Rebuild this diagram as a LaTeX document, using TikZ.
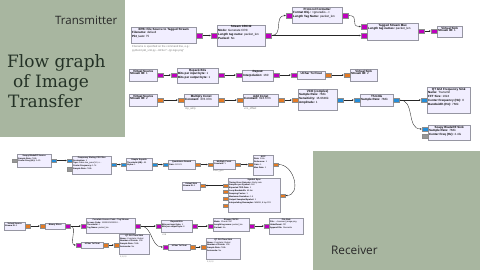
\documentclass[tikz,border=0pt]{standalone}
\usepackage{fontspec}
\newfontfamily\grfont{Liberation Sans}
\newfontfamily\headfont{Open Sans}
\newfontfamily\serifhead{DejaVu Serif}
\usetikzlibrary{arrows.meta}

\definecolor{panel}{RGB}{168,182,160}
\definecolor{blockfill}{RGB}{241,238,255}
\definecolor{blockline}{RGB}{150,150,162}
\definecolor{pbyte}{RGB}{190,0,190}
\definecolor{pfloat}{RGB}{228,122,36}
\definecolor{pcplx}{RGB}{36,142,218}
\definecolor{pmsg}{RGB}{150,150,150}
\definecolor{titleink}{RGB}{36,50,38}
\definecolor{labelink}{RGB}{40,40,40}
\definecolor{noteink}{RGB}{120,120,120}

% a flowgraph block: name, x, y, width, height, title, parameter lines
\newcommand\grblk[7]{%
  \node[blk, minimum width=#4pt, minimum height=#5pt] (#1) at (#2,#3) {};
  \node[blkhead] (#1-h) at ([yshift=-0.5pt]#1.north) {#6};
  \node[blkbody, xshift=0.8pt] (#1-p) at (#1-h.south -| #1.west) {#7};}
% ports: name, block, y, colour
\newcommand\outp[4]{\node[port, fill=#4, anchor=west] (#1) at (#2.east |- 0,#3) {};}
\newcommand\inp[4]{\node[port, fill=#4, anchor=east] (#1) at (#2.west |- 0,#3) {};}
\newcommand\kv[2]{\textbf{#1:} #2}

\tikzset{
  blk/.style={rectangle, anchor=north west, inner sep=0, draw=blockline, fill=blockfill, line width=0.4pt},
  wire/.style={draw=black!85, line width=0.35pt, -{Stealth[length=1.8pt,width=1.6pt]}},
  note/.style={anchor=north west, inner sep=0, text=noteink, align=left},
}

\begin{document}
\begin{tikzpicture}[x=1pt,y=-1pt]
\fill[white] (0,0) rectangle (480,270);
\useasboundingbox (0,0) rectangle (480,270);

% side panels
\fill[panel] (0,0) rectangle (125,137);
\fill[panel] (313,151) rectangle (480,270);

\node[anchor=base west, inner sep=0, text=labelink, font=\headfont\fontsize{11.5}{13}\selectfont] (txlabel) at (55,24.5) {Transmitter};
\node[anchor=base west, inner sep=0, text=labelink, font=\headfont\fontsize{11.8}{13}\selectfont] (rxlabel) at (331,254) {Receiver};
\node[anchor=base west, inner sep=0, text=titleink, font=\serifhead\fontsize{17}{20}\selectfont] (title1) at (7,68) {Flow graph};
\node[anchor=base west, inner sep=0, text=titleink, font=\serifhead\fontsize{17}{20}\selectfont] (title2) at (13,88) {of Image};
\node[anchor=base west, inner sep=0, text=titleink, font=\serifhead\fontsize{17}{20}\selectfont] (title3) at (8,108) {Transfer};

% ---------------- transmitter ----------------
\begin{scope}[
  blkhead/.style={anchor=north, inner sep=0.2pt, font=\grfont\bfseries\fontsize{3.0}{4.0}\selectfont},
  blkbody/.style={anchor=north west, inner sep=0.2pt, align=left, font=\grfont\fontsize{3.0}{4.0}\selectfont},
  port/.style={rectangle, inner sep=0, minimum width=6pt, minimum height=4.5pt, draw=black!45, line width=0.2pt},
  note/.append style={font=\grfont\fontsize{2.7}{3.6}\selectfont}]

\grblk{fsrc}{131}{27}{65}{16}{EPB: File Source to Tagged Stream}{\kv{Filename}{default}\\\kv{Pkt\_Len}{75}}
\outp{fsrc-o}{fsrc}{35.5}{pbyte}
\node[note] (fsrc-c) at (132,45.5) {Filename is specified on the command line, e.g.:\\python3 pkt\_xmt.py --InFile="../gr-logo.png"};

\grblk{crc}{217}{25}{48}{21}{Stream CRC32}{\kv{Mode}{Generate CRC}\\\kv{Length tag name}{packet\_len}\\\kv{Packed}{No}}
\inp{crc-i}{crc}{35.5}{pbyte}
\outp{crc-o}{crc}{35.5}{pbyte}

\grblk{pf}{292}{7}{50}{16}{Protocol Formatter}{\kv{Format Obj.}{<gnuradio...>}\\\kv{Length Tag Name}{packet\_len}}
\inp{pf-i}{pf}{15.5}{pbyte}
\outp{pf-o}{pf}{15.5}{pbyte}

\grblk{mux}{367}{23}{51}{17}{Tagged Stream Mux}{\kv{Length tag names}{packet\_len}}
\inp{mux-i1}{mux}{26.5}{pbyte}
\inp{mux-i2}{mux}{35.5}{pbyte}
\outp{mux-o}{mux}{31}{pbyte}

\grblk{vsk1}{437}{26}{25}{11}{Virtual Sink}{\kv{Stream ID}{1}}
\inp{vsk1-i}{vsk1}{31}{pbyte}

\grblk{vsr1}{129}{69}{28}{12}{Virtual Source}{\kv{Stream ID}{1}}
\outp{vsr1-o}{vsr1}{75}{pbyte}

\grblk{rpk}{177}{68}{41}{15}{Repack Bits}{\kv{Bits per input byte}{1}\\\kv{Bits per output byte}{1}}
\inp{rpk-i}{rpk}{75}{pbyte}
\outp{rpk-o}{rpk}{75}{pbyte}

\grblk{rep}{242}{70}{31}{11}{Repeat}{\kv{Interpolation}{160}}
\inp{rep-i}{rep}{75}{pbyte}
\outp{rep-o}{rep}{75}{pbyte}

\grblk{u2f}{297}{71}{28}{8}{UChar To Float}{}
\inp{u2f-i}{u2f}{75}{pbyte}
\outp{u2f-o}{u2f}{75}{pfloat}

\grblk{vsk2}{350}{69}{27}{12}{Virtual Sink}{\kv{Stream ID}{2}}
\inp{vsk2-i}{vsk2}{75}{pfloat}

\grblk{vsr2}{129}{94}{28}{12}{Virtual Source}{\kv{Stream ID}{2}}
\outp{vsr2-o}{vsr2}{100}{pfloat}

\grblk{mul}{184}{94}{34}{12}{Multiply Const}{\kv{Constant}{376.37m}}
\inp{mul-i}{mul}{100}{pfloat}
\outp{mul-o}{mul}{100}{pfloat}
\node[note] (mul-c) at (185,107.5) {inp\_amp};

\grblk{add}{243}{94}{35}{12}{Add Const}{\kv{Constant}{624.67m}}
\inp{add-i}{add}{100}{pfloat}
\outp{add-o}{add}{100}{pfloat}
\node[note] (add-c) at (244,107.5) {vco\_offset};

\grblk{vco}{298}{89}{39}{21}{VCO (complex)}{\kv{Sample Rate}{768k}\\\kv{Sensitivity}{16.9646k}\\\kv{Amplitude}{1}}
\inp{vco-i}{vco}{100}{pfloat}
\outp{vco-o}{vco}{100}{pcplx}

\grblk{thr}{360}{94}{33}{12}{Throttle}{\kv{Sample Rate}{768k}}
\inp{thr-i}{thr}{100}{pcplx}
\outp{thr-o}{thr}{100}{pcplx}

\grblk{fsk}{427}{87}{43}{26}{QT GUI Frequency Sink}{\kv{Name}{Transmit}\\\kv{FFT Size}{1024}\\\kv{Center Frequency (Hz)}{0}\\\kv{Bandwidth (Hz)}{768k}}
\inp{fsk-i}{fsk}{100}{pcplx}

\grblk{bsk}{428}{125}{42}{15}{Soapy BladeRF Sink}{\kv{Sample Rate}{768k}\\\kv{Center Freq (Hz)}{2.4G}}
\inp{bsk-i}{bsk}{129}{pcplx}
\inp{bsk-m}{bsk}{136}{pmsg}
\end{scope}

% transmitter connections
\draw[wire] (fsrc-o.east) -- (crc-i.west);
\draw[wire] (crc-o.east) .. controls +(12,0) and +(-12,0) .. (pf-i.west);
\draw[wire] (crc-o.east) -- (mux-i2.west);
\draw[wire] (pf-o.east) .. controls +(12,0) and +(-12,0) .. (mux-i1.west);
\draw[wire] (mux-o.east) -- (vsk1-i.west);
\draw[wire] (vsr1-o.east) -- (rpk-i.west);
\draw[wire] (rpk-o.east) -- (rep-i.west);
\draw[wire] (rep-o.east) -- (u2f-i.west);
\draw[wire] (u2f-o.east) -- (vsk2-i.west);
\draw[wire] (vsr2-o.east) -- (mul-i.west);
\draw[wire] (mul-o.east) -- (add-i.west);
\draw[wire] (add-o.east) -- (vco-i.west);
\draw[wire] (vco-o.east) -- (thr-i.west);
\draw[wire] (thr-o.east) -- (fsk-i.west);
\draw[wire] (thr-o.east) .. controls +(16,0) and +(-16,0) .. (bsk-i.west);

% ---------------- receiver ----------------
\begin{scope}[
  blkhead/.style={anchor=north, inner sep=0.15pt, font=\grfont\bfseries\fontsize{2.1}{2.9}\selectfont},
  blkbody/.style={anchor=north west, inner sep=0.15pt, align=left, font=\grfont\fontsize{2.1}{2.9}\selectfont},
  port/.style={rectangle, inner sep=0, minimum width=5pt, minimum height=3.6pt, draw=black!45, line width=0.2pt},
  note/.append style={font=\grfont\fontsize{2.1}{2.8}\selectfont}]

\grblk{bsrc}{17}{154}{34}{13}{Soapy BladeRF Source}{\kv{Sample Rate}{768k}\\\kv{Center Freq (Hz)}{2.4G}}
\inp{bsrc-m}{bsrc}{160.5}{pmsg}
\outp{bsrc-o}{bsrc}{160.5}{pcplx}

\grblk{xl}{72}{156}{39}{18}{Frequency Xlating FIR Filter}{\kv{Decimation}{1}\\\kv{Taps}{firdes.low\_pass(1.0, s...}\\\kv{Center Frequency}{1.7k}\\\kv{Sample Rate}{768k}}
\inp{xl-i}{xl}{160.5}{pcplx}
\inp{xl-m}{xl}{169}{pmsg}
\outp{xl-o}{xl}{164.5}{pcplx}

\grblk{sq}{126}{158}{26}{12}{Simple Squelch}{\kv{Threshold (dB)}{-50}\\\kv{Alpha}{1}}
\inp{sq-i}{sq}{164.5}{pcplx}
\outp{sq-o}{sq}{164.5}{pcplx}

\grblk{qd}{168}{160}{27}{8.5}{Quadrature Demod}{\kv{Gain}{122.23}}
\inp{qd-i}{qd}{164.5}{pcplx}
\outp{qd-o}{qd}{164.5}{pfloat}

\grblk{mc}{213}{160}{22}{9}{Multiply Const}{\kv{Constant}{1}}
\inp{mc-i}{mc}{164.5}{pfloat}
\outp{mc-o}{mc}{164.5}{pfloat}
\node[note] (mc-c) at (213,170) {invert\_gain};

\grblk{agc}{253}{155}{20}{20}{AGC}{\kv{Rate}{100u}\\\kv{Reference}{1}\\\kv{Gain}{1}\\\kv{Max Gain}{1}}
\inp{agc-i}{agc}{164.5}{pfloat}
\outp{agc-o}{agc}{164.5}{pfloat}

\grblk{ss}{228}{178}{52}{34}{Symbol Sync}{\kv{Timing Error Detector}{Early-Late}\\\kv{Samples per Symbol}{160}\\\kv{Expected TED Gain}{1}\\\kv{Loop Bandwidth}{62.8m}\\\kv{Damping Factor}{1}\\\kv{Maximum Deviation}{1.5}\\\kv{Output Samples/Symbol}{1}\\\kv{Interpolating Resampler}{MMSE, 8 tap FIR}}
\outp{ss-i}{ss}{195.5}{pfloat}
\inp{ss-o1}{ss}{185.5}{pfloat}
\inp{ss-o2}{ss}{191.5}{pfloat}
\inp{ss-o3}{ss}{198.5}{pfloat}
\inp{ss-o4}{ss}{205.5}{pfloat}

\grblk{vskr}{182}{182}{18}{7.5}{Virtual Sink}{\kv{Stream ID}{3}}
\outp{vskr-i}{vskr}{185.5}{pfloat}

\grblk{vsrr}{4}{222}{21}{8}{Virtual Source}{\kv{Stream ID}{3}}
\outp{vsrr-o}{vsrr}{226}{pfloat}

\grblk{bs}{45}{223}{20}{6}{Binary Slicer}{}
\inp{bs-i}{bs}{226}{pfloat}
\outp{bs-o}{bs}{226}{pbyte}

\grblk{cac}{86}{218}{49}{15}{Correlate Access Code - Tag Stream}{\kv{Access Code}{11100001010110...}\\\kv{Threshold}{0}\\\kv{Tag Name}{packet\_len}}
\inp{cac-i}{cac}{226}{pbyte}
\outp{cac-o}{cac}{226}{pbyte}

\grblk{ufa}{81}{242}{22}{6}{UChar To Float}{}
\inp{ufa-i}{ufa}{245}{pbyte}
\outp{ufa-o}{ufa}{245}{pfloat}

\grblk{tsa}{119}{234}{30}{20}{QT GUI Time Sink}{\kv{Name}{Correlator Output}\\\kv{Number of Points}{128}\\\kv{Sample Rate}{768k}\\\kv{Autoscale}{No}}
\inp{tsa-i}{tsa}{245}{pfloat}
\node[note] (tsa-c) at (120,255.5) {0,1,0,0};

\grblk{rpr}{161}{220}{31}{12}{Repack Bits}{\kv{Bits per input byte}{1}\\\kv{Bits per output byte}{8}}
\inp{rpr-i}{rpr}{226}{pbyte}
\outp{rpr-o}{rpr}{226}{pbyte}
\node[note] (rpr-c) at (162,233.5) {LSB};

\grblk{crr}{213}{218}{36}{13}{Stream CRC32}{\kv{Mode}{Check CRC}\\\kv{Length tag name}{packet\_len}\\\kv{Packed}{No}}
\inp{crr-i}{crr}{226}{pbyte}
\outp{crr-o}{crr}{226}{pbyte}

\grblk{fsn}{269}{218}{34}{16}{File Sink}{\kv{File}{.../received\_image.png}\\\kv{Unbuffered}{Off}\\\kv{Append file}{Overwrite}}
\inp{fsn-i}{fsn}{226}{pbyte}

\grblk{ufb}{168}{244}{22}{6}{UChar To Float}{}
\inp{ufb-i}{ufb}{247}{pbyte}
\outp{ufb-o}{ufb}{247}{pfloat}

\grblk{tsb}{206}{238}{34}{21}{QT GUI Time Sink}{\kv{Name}{Correlator Output}\\\kv{Number of Points}{128}\\\kv{Sample Rate}{768k}\\\kv{Autoscale}{No}}
\inp{tsb-i}{tsb}{247}{pfloat}
\node[note] (tsb-c) at (207,260.5) {0,1,0,0};
\end{scope}

% receiver connections
\draw[wire] (bsrc-o.east) -- (xl-i.west);
\draw[wire] (xl-o.east) -- (sq-i.west);
\draw[wire] (sq-o.east) -- (qd-i.west);
\draw[wire] (qd-o.east) -- (mc-i.west);
\draw[wire] (mc-o.east) -- (agc-i.west);
\draw[wire] (agc-o.east) .. controls +(16,0) and +(16,0) .. (ss-i.east);
\draw[wire] (ss-o1.west) -- (vskr-i.east);
\draw[wire] (vsrr-o.east) -- (bs-i.west);
\draw[wire] (bs-o.east) -- (cac-i.west);
\draw[wire] (bs-o.east) .. controls +(7,0) and +(-7,0) .. (ufa-i.west);
\draw[wire] (ufa-o.east) -- (tsa-i.west);
\draw[wire] (cac-o.east) .. controls +(12,0) and +(-12,0) .. (ufb-i.west);
\draw[wire] (cac-o.east) -- (rpr-i.west);
\draw[wire] (rpr-o.east) -- (crr-i.west);
\draw[wire] (crr-o.east) -- (fsn-i.west);
\draw[wire] (ufb-o.east) -- (tsb-i.west);
\end{tikzpicture}
\end{document}
